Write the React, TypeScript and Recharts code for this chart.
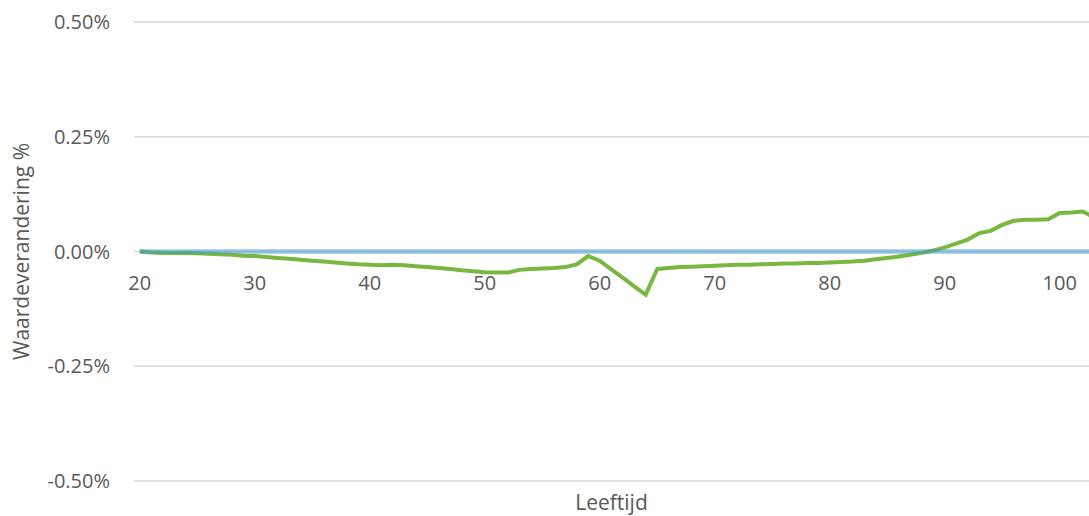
import { CartesianGrid, Line, LineChart, XAxis, YAxis } from "recharts";

const AGES = [
  20, 21, 22, 23, 24, 25, 26, 27, 28, 29, 30, 31, 32, 33, 34, 35, 36, 37, 38, 39, 40, 41,
  42, 43, 44, 45, 46, 47, 48, 49, 50, 51, 52, 53, 54, 55, 56, 57, 58, 59, 60, 61, 62, 63,
  64, 65, 66, 67, 68, 69, 70, 71, 72, 73, 74, 75, 76, 77, 78, 79, 80, 81, 82, 83, 84, 85,
  86, 87, 88, 89, 90, 91, 92, 93, 94, 95, 96, 97, 98, 99, 100, 101, 102, 103,
];

// waardeverandering in %
const CHANGE = [
  0.0, -0.002, -0.003, -0.003, -0.003, -0.004, -0.005, -0.006, -0.007, -0.009, -0.01,
  -0.012, -0.014, -0.016, -0.018, -0.02, -0.022, -0.024, -0.026, -0.028, -0.029, -0.03,
  -0.029, -0.03, -0.032, -0.034, -0.036, -0.038, -0.041, -0.043, -0.045, -0.046, -0.046,
  -0.04, -0.038, -0.037, -0.036, -0.034, -0.028, -0.01, -0.02, -0.039, -0.057, -0.076,
  -0.094, -0.038, -0.036, -0.034, -0.033, -0.032, -0.031, -0.03, -0.029, -0.029, -0.028,
  -0.027, -0.026, -0.026, -0.025, -0.025, -0.024, -0.023, -0.022, -0.02, -0.017, -0.014,
  -0.011, -0.007, -0.003, 0.002, 0.009, 0.017, 0.026, 0.04, 0.045, 0.058, 0.067, 0.069,
  0.069, 0.07, 0.084, 0.085, 0.087, 0.074,
];

const BASE = [
  0, 0, 0, 0, 0, 0, 0, 0, 0, 0, 0, 0, 0, 0, 0, 0, 0, 0, 0, 0, 0, 0, 0, 0, 0, 0, 0, 0,
  0, 0, 0, 0, 0, 0, 0, 0, 0, 0, 0, 0, 0, 0, 0, 0, 0, 0, 0, 0, 0, 0, 0, 0, 0, 0, 0, 0,
  0, 0, 0, 0, 0, 0, 0, 0, 0, 0, 0, 0, 0, 0, 0, 0, 0, 0, 0, 0, 0, 0, 0, 0, 0, 0, 0, 0,
];

const X_TICKS = [20, 30, 40, 50, 60, 70, 80, 90, 100];
const Y_TICKS = [-0.5, -0.25, 0, 0.25, 0.5];

const data = AGES.map((age, i) => ({ age, change: CHANGE[i], base: BASE[i] }));

const FONT = "'Open Sans', sans-serif";
const TEXT = "#595959";

// x labels sit under the zero line, not at the bottom of the plot
function AgeTick(props: any) {
  const { x, y, payload } = props;
  return (
    <text x={x} y={y - 199} textAnchor="middle" fill={TEXT} fontSize={20} fontFamily={FONT}>
      {payload.value}
    </text>
  );
}

export default function App() {
  return (
    <div style={{ position: "absolute", left: 0, top: 0, width: 1089, height: 516, background: "#fff" }}>
      <LineChart width={1089} height={516} data={data} margin={{ top: 22, right: 0, bottom: 0, left: 0 }}>
        <CartesianGrid vertical={false} stroke="#D9D9D9" strokeWidth={1.5} />
        <XAxis
          dataKey="age"
          type="number"
          domain={[19.5, 102.55]}
          allowDataOverflow
          ticks={X_TICKS}
          axisLine={false}
          tickLine={false}
          height={35}
          tick={<AgeTick />}
          label={{
            value: "Leeftijd",
            position: "insideBottom",
            offset: 6,
            fill: TEXT,
            fontSize: 21,
            fontFamily: FONT,
          }}
        />
        <YAxis
          type="number"
          domain={[-0.5, 0.5]}
          ticks={Y_TICKS}
          width={134}
          axisLine={false}
          tickLine={false}
          tickSize={0}
          tickMargin={24}
          tickFormatter={(v: number) => `${v.toFixed(2)}%`}
          tick={{ fill: TEXT, fontSize: 20, fontFamily: FONT }}
          label={{
            value: "Waardeverandering %",
            angle: -90,
            position: "insideLeft",
            offset: 22,
            style: { textAnchor: "middle" },
            fill: TEXT,
            fontSize: 21,
            fontFamily: FONT,
          }}
        />
        <Line
          dataKey="change"
          stroke="#78B740"
          strokeWidth={4}
          dot={false}
          isAnimationActive={false}
        />
        <Line
          dataKey="base"
          stroke="#3D9BD0"
          strokeOpacity={0.55}
          strokeWidth={4.5}
          dot={false}
          isAnimationActive={false}
        />
      </LineChart>
    </div>
  );
}
